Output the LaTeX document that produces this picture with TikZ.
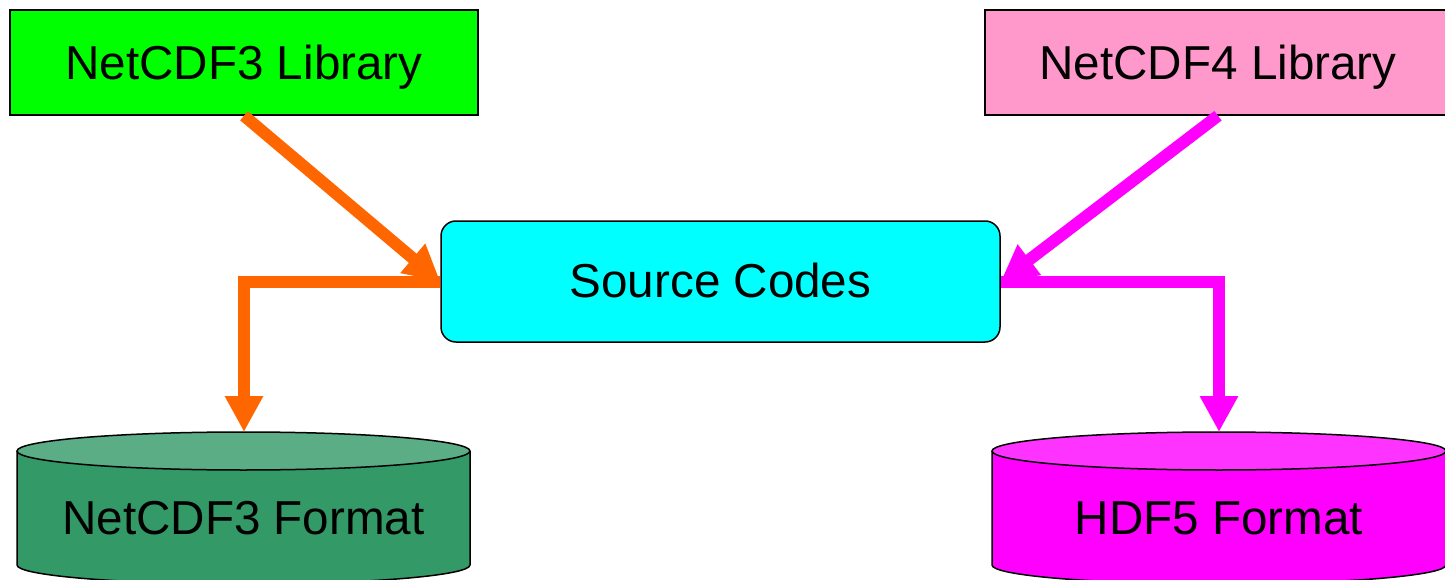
\documentclass[tikz,border=0pt]{standalone}
\usepackage{fontspec}
\setmainfont{Liberation Sans}
\usetikzlibrary{arrows.meta}
\definecolor{libgreen}{HTML}{00FF00}
\definecolor{libpink}{HTML}{FF99CC}
\definecolor{srccyan}{HTML}{00FFFF}
\definecolor{dbgreen}{HTML}{339966}
\definecolor{dbgreentop}{HTML}{5BAD85}
\definecolor{dbmagenta}{HTML}{FF00FF}
\definecolor{dbmagentatop}{HTML}{FF33FF}
\definecolor{flowornge}{HTML}{FF6600}
\definecolor{flowmagenta}{HTML}{FF00FF}
\tikzset{
  x=1pt, y=-1pt,
  label text/.style={font=\fontsize{47.6}{57}\selectfont, text=black, text depth=0pt},
  libbox/.style={draw=black, line width=1.5pt, inner sep=0pt, minimum height=105pt,
    label text, text height=35pt},
  srcbox/.style={draw=black, line width=1.5pt, fill=srccyan, rounded corners=15pt, inner sep=0pt,
    minimum width=559pt, minimum height=121pt, label text, text height=31pt},
  dbside/.style={draw=black, line width=1.5pt},
  dbtext/.style={label text, inner sep=0pt, text height=32pt},
  flow/.style={line width=12pt, -{Triangle[width=36pt,length=36pt]}},
}
\begin{document}
\begin{tikzpicture}
\useasboundingbox (0,0) rectangle (1445,580);

% library boxes and the shared source
\node[libbox, fill=libgreen, minimum width=468pt] (lib3) at (244,62.5) {NetCDF3 Library};
\node[libbox, fill=libpink, minimum width=466pt] (lib4) at (1218,62.5) {NetCDF4 Library};
\node[srcbox] (src) at (720.5,281.5) {Source Codes};

% NetCDF3 format drum
\fill[dbgreen] (17,451) -- (17,565) arc[start angle=180, end angle=0, x radius=226.5, y radius=19]
  -- (470,451) arc[start angle=0, end angle=180, x radius=226.5, y radius=19] -- cycle;
\draw[dbside] (17,451) -- (17,565) arc[start angle=180, end angle=0, x radius=226.5, y radius=19] -- (470,451);
\draw[dbside, fill=dbgreentop] (243.5,451) ellipse[x radius=226.5, y radius=19];
\node[dbtext] (fmt3) at (243.5,518) {NetCDF3 Format};
\coordinate (fmt3top) at (244,432);

% HDF5 format drum
\fill[dbmagenta] (992,451) -- (992,565) arc[start angle=180, end angle=0, x radius=227, y radius=19]
  -- (1446,451) arc[start angle=0, end angle=180, x radius=227, y radius=19] -- cycle;
\draw[dbside] (992,451) -- (992,565) arc[start angle=180, end angle=0, x radius=227, y radius=19] -- (1446,451);
\draw[dbside, fill=dbmagentatop] (1219,451) ellipse[x radius=227, y radius=19];
\node[dbtext] (hdf5) at (1219,518) {HDF5 Format};
\coordinate (hdf5top) at (1219,432);

% data flow
\draw[flow, flowornge] (lib3.south) -- (src.west);
\draw[flow, flowornge] (src.west) -| (fmt3top);
\draw[flow, flowmagenta] (lib4.south) -- (src.east);
\draw[flow, flowmagenta] (src.east) -| (hdf5top);
\end{tikzpicture}
\end{document}
